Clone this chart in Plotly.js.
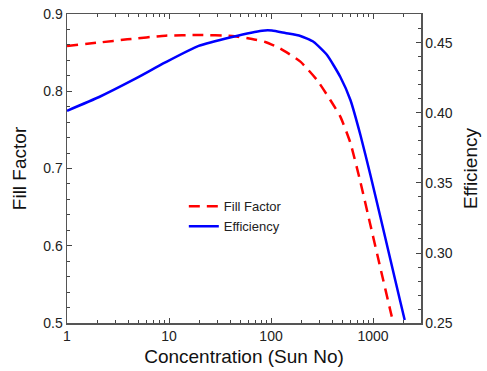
<!DOCTYPE html>
<html>
<head>
<meta charset="utf-8">
<script src="https://cdn.plot.ly/plotly-3.0.1.min.js"></script>
<style>html,body{margin:0;padding:0;background:#fff;}#chart{width:487px;height:371px;}</style>
</head>
<body>
<div id="chart"></div>
<script>
// Fill Factor (left axis)
const ffConc = [1, 2.07, 3.9, 9.2, 19.5, 41.5, 65.1, 87.9, 123, 194, 282, 381, 478, 600, 752, 942, 1180, 1479, 1546];
const ffVals = [0.8586, 0.8631, 0.8672, 0.8719, 0.8728, 0.8715, 0.8676, 0.8638, 0.8553, 0.8383, 0.8146, 0.7887, 0.7671, 0.7330, 0.6825, 0.6269, 0.5712, 0.5159, 0.5052];
// Efficiency (right axis)
const effConc = [1, 2.09, 4.44, 9.2, 19.5, 41.5, 81.6, 102, 138, 194, 262, 354, 478, 600, 752, 942, 1180, 1479, 1854, 2042];
const effVals = [0.4016, 0.4116, 0.4236, 0.4361, 0.4479, 0.4543, 0.4588, 0.4589, 0.4571, 0.4550, 0.4507, 0.4414, 0.4257, 0.4093, 0.3843, 0.3557, 0.3257, 0.2954, 0.2650, 0.2521];
// Tick values
const xTickVals = [1, 10, 100, 1000];
const xTickText = ['1', '10', '100', '1000'];
const xMinorTicks = [2, 3, 4, 5, 6, 7, 8, 9, 20, 30, 40, 50, 60, 70, 80, 90, 200, 300, 400, 500, 600, 700, 800, 900, 2000];
const ffMinorTicks = [0.52, 0.54, 0.56, 0.58, 0.62, 0.64, 0.66, 0.68, 0.72, 0.74, 0.76, 0.78, 0.82, 0.84, 0.86, 0.88];
const effMinorTicks = [0.26, 0.27, 0.28, 0.29, 0.31, 0.32, 0.33, 0.34, 0.36, 0.37, 0.38, 0.39, 0.41, 0.42, 0.43, 0.44, 0.46];

const font = 'Liberation Sans, Arial, sans-serif';
const axisCol = '#555';
const tickCol = '#444';
const hidden = {type: 'scatter', mode: 'markers', x: [1], y: [0.5], marker: {opacity: 0}, showlegend: false, hoverinfo: 'skip'};
const traces = [
  {x: ffConc, y: ffVals, name: 'Fill Factor', type: 'scatter', mode: 'lines', yaxis: 'y',
   line: {color: '#ff0000', width: 2.5, dash: '11px,7px', shape: 'spline', smoothing: 0.5}},
  {x: effConc, y: effVals, name: 'Efficiency', type: 'scatter', mode: 'lines', yaxis: 'y2',
   line: {color: '#0000ff', width: 2.5, shape: 'spline', smoothing: 0.5}},
  Object.assign({}, hidden, {xaxis: 'x2', yaxis: 'y'}),
  Object.assign({}, hidden, {xaxis: 'x', yaxis: 'y3'}),
  Object.assign({}, hidden, {xaxis: 'x', yaxis: 'y4', y: [0.3]})
];
const minorAxis = {ticks: 'inside', ticklen: 3, tickwidth: 1, tickcolor: tickCol, tickmode: 'array',
  showticklabels: false, showline: false, showgrid: false, zeroline: false};
const majorTicks = {ticks: 'inside', ticklen: 5, tickwidth: 1, tickcolor: tickCol};
const layout = {
  width: 487, height: 371,
  margin: {l: 67, r: 66, t: 14, b: 48},
  paper_bgcolor: '#fff', plot_bgcolor: '#fff',
  font: {family: font, size: 14, color: '#222'},
  showlegend: true,
  legend: {x: 0.33, y: 0.426, xanchor: 'left', yanchor: 'top', bgcolor: 'rgba(0,0,0,0)',
    font: {family: font, size: 13, color: '#222'}, itemwidth: 30, tracegroupgap: 0},
  xaxis: Object.assign({}, majorTicks, {type: 'log', range: [0, 3.47], tickmode: 'array', tickvals: xTickVals, ticktext: xTickText,
    showline: true, linecolor: axisCol, linewidth: 1.5, mirror: 'ticks',
    showgrid: false, zeroline: false,
    tickfont: {size: 14, color: '#222'},
    title: {text: 'Concentration (Sun No)', font: {size: 19, color: '#111'}, standoff: 6}}),
  xaxis2: Object.assign({}, minorAxis, {type: 'log', range: [0, 3.47], overlaying: 'x', anchor: 'y',
    tickvals: xMinorTicks, mirror: 'ticks'}),
  yaxis: Object.assign({}, majorTicks, {range: [0.5, 0.9], dtick: 0.1, tickformat: '.1f',
    showline: true, linecolor: axisCol, linewidth: 1.5,
    showgrid: false, zeroline: false,
    tickfont: {size: 14, color: '#222'},
    title: {text: 'Fill Factor', font: {size: 19, color: '#111'}, standoff: 11}}),
  yaxis2: Object.assign({}, majorTicks, {overlaying: 'y', side: 'right', anchor: 'x', range: [0.25, 0.4707], dtick: 0.05, tickformat: '.2f',
    showline: true, linecolor: axisCol, linewidth: 1.5,
    showgrid: false, zeroline: false,
    tickfont: {size: 14, color: '#222'},
    title: {text: 'Efficiency', font: {size: 19, color: '#111'}, standoff: 12}}),
  yaxis3: Object.assign({}, minorAxis, {overlaying: 'y', side: 'left', anchor: 'x', range: [0.5, 0.9],
    tickvals: ffMinorTicks}),
  yaxis4: Object.assign({}, minorAxis, {overlaying: 'y', side: 'right', anchor: 'x', range: [0.25, 0.4707],
    tickvals: effMinorTicks})
};
Plotly.newPlot('chart', traces, layout, {displayModeBar: false, staticPlot: true});
</script>
</body>
</html>
